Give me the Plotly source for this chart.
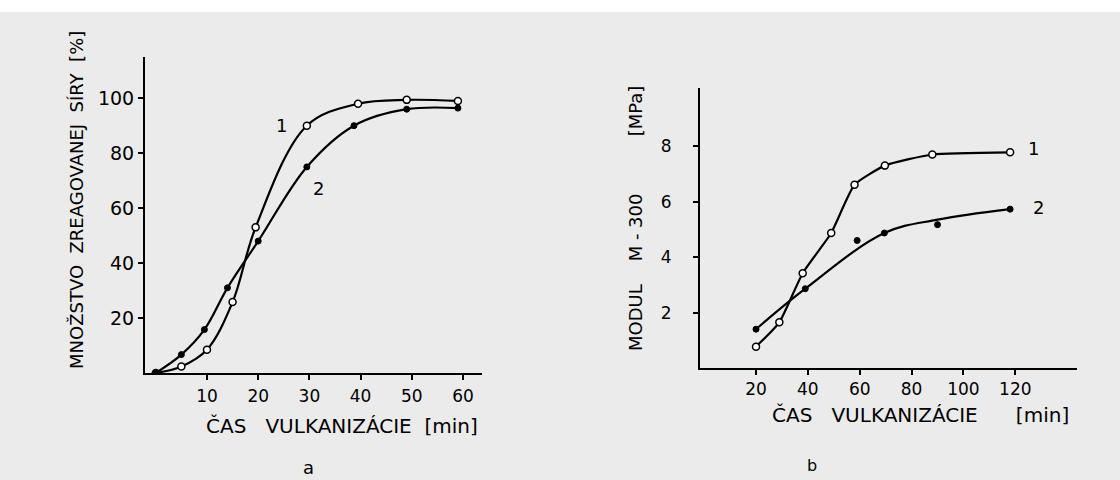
import plotly.graph_objects as go

# ---- Chart a: amount of reacted sulphur vs vulcanisation time ----
a_x1 = [0, 5, 10, 15, 19.5, 29.5, 39.5, 49, 59]
a_y1 = [0, 2.4, 8.5, 25.8, 53, 90, 98, 99.4, 99]
a_x2 = [0, 5, 9.5, 14, 20, 29.5, 38.7, 49, 59]
a_y2 = [0, 6.7, 15.8, 31, 48, 75, 90, 96, 96.4]
a_xticks = [10, 20, 30, 40, 50, 60]
a_yticks = [20, 40, 60, 80, 100]

# ---- Chart b: modulus M-300 vs vulcanisation time ----
b_x1 = [20, 29, 38, 49, 58, 69.7, 88, 118]
b_y1 = [0.77, 1.65, 3.42, 4.87, 6.61, 7.3, 7.7, 7.78]
b_x2_pts = [20, 39, 59, 69.5, 90, 118]
b_y2_pts = [1.4, 2.86, 4.6, 4.87, 5.17, 5.73]
b_x2_line = [20, 39, 69.5, 90, 118]
b_y2_line = [1.4, 2.86, 4.87, 5.35, 5.73]
b_xticks = [20, 40, 60, 80, 100, 120]
b_yticks = [2, 4, 6, 8]

FONT = "DejaVu Sans"
BG = "#ebebeb"
W, H = 1120, 480

fig = go.Figure()

def spline(sm):
    return dict(color="black", width=2.2, shape="spline", smoothing=sm)

open_marker = dict(symbol="circle", size=7, color="white", line=dict(color="black", width=1.5))
fill_marker = dict(symbol="circle", size=6, color="black", line=dict(color="black", width=1))

# chart a
fig.add_trace(go.Scatter(x=a_x1, y=a_y1, mode="lines+markers", line=spline(1.0),
                         marker=open_marker, xaxis="x", yaxis="y", showlegend=False))
fig.add_trace(go.Scatter(x=a_x2, y=a_y2, mode="lines+markers", line=spline(1.0),
                         marker=fill_marker, xaxis="x", yaxis="y", showlegend=False))
# chart b
fig.add_trace(go.Scatter(x=b_x2_line, y=b_y2_line, mode="lines", line=spline(1.0),
                         xaxis="x2", yaxis="y2", showlegend=False))
fig.add_trace(go.Scatter(x=b_x2_pts, y=b_y2_pts, mode="markers",
                         marker=fill_marker, xaxis="x2", yaxis="y2", showlegend=False))
fig.add_trace(go.Scatter(x=b_x1, y=b_y1, mode="lines+markers", line=spline(0.5),
                         marker=open_marker, xaxis="x2", yaxis="y2", showlegend=False))

def axis_common(size):
    return dict(showline=True, linecolor="black", linewidth=2, ticks="outside",
                ticklen=5, tickwidth=1.5, tickcolor="black", showgrid=False,
                zeroline=False, tickfont=dict(family=FONT, size=size, color="black"))

fig.update_layout(
    width=W, height=H,
    margin=dict(l=0, r=0, t=0, b=0),
    paper_bgcolor=BG, plot_bgcolor=BG,
    font=dict(family=FONT, color="black"),
    xaxis=dict(domain=[145 / W, 482 / W], range=[-2.1, 63.7], tickvals=a_xticks,
               anchor="y", ticklabelstandoff=2, **axis_common(17)),
    yaxis=dict(domain=[(H - 373) / H, (H - 57) / H], range=[0, 115], tickvals=a_yticks,
               anchor="x", **axis_common(19)),
    xaxis2=dict(domain=[700 / W, 1077 / W], range=[-1.6, 143.8], tickvals=b_xticks,
                anchor="y2", **axis_common(17)),
    yaxis2=dict(domain=[(H - 368) / H, (H - 88) / H], range=[0, 10.1], tickvals=b_yticks,
                anchor="x2", ticklabelstandoff=18, **axis_common(17)),
    shapes=[dict(type="rect", xref="paper", yref="paper", x0=0, x1=1,
                 y0=(H - 12) / H, y1=1, fillcolor="white", line=dict(width=0), layer="below")],
)

def ann(text, x, y, size=17, angle=0, xref="paper", yref="paper"):
    fig.add_annotation(text=text, x=x, y=y, xref=xref, yref=yref, showarrow=False,
                       xanchor="center", yanchor="middle", textangle=angle,
                       font=dict(family=FONT, size=size, color="black"))

# axis titles (pixel positions converted to paper)
ann("MNOŽSTVO  ZREAGOVANEJ  SÍRY  [%]", 77 / W, (H - 200) / H, size=18, angle=-90)
ann("ČAS   VULKANIZÁCIE  [min]", 342 / W, (H - 426) / H, size=20)
ann("MODUL    M - 300          [MPa]", 635 / W, (H - 219) / H, size=18, angle=-90)
ann("ČAS   VULKANIZÁCIE      [min]", 920 / W, (H - 415) / H, size=20)

# curve labels
ann("1", 24.6, 90, size=18, xref="x", yref="y")
ann("2", 31.8, 67, size=18, xref="x", yref="y")
ann("1", 127, 7.9, size=18, xref="x2", yref="y2")
ann("2", 129, 5.8, size=18, xref="x2", yref="y2")

# panel letters
ann("a", 308 / W, (H - 467) / H, size=18)
ann("b", 812 / W, (H - 465) / H, size=16)

fig.write_html("out.html")
